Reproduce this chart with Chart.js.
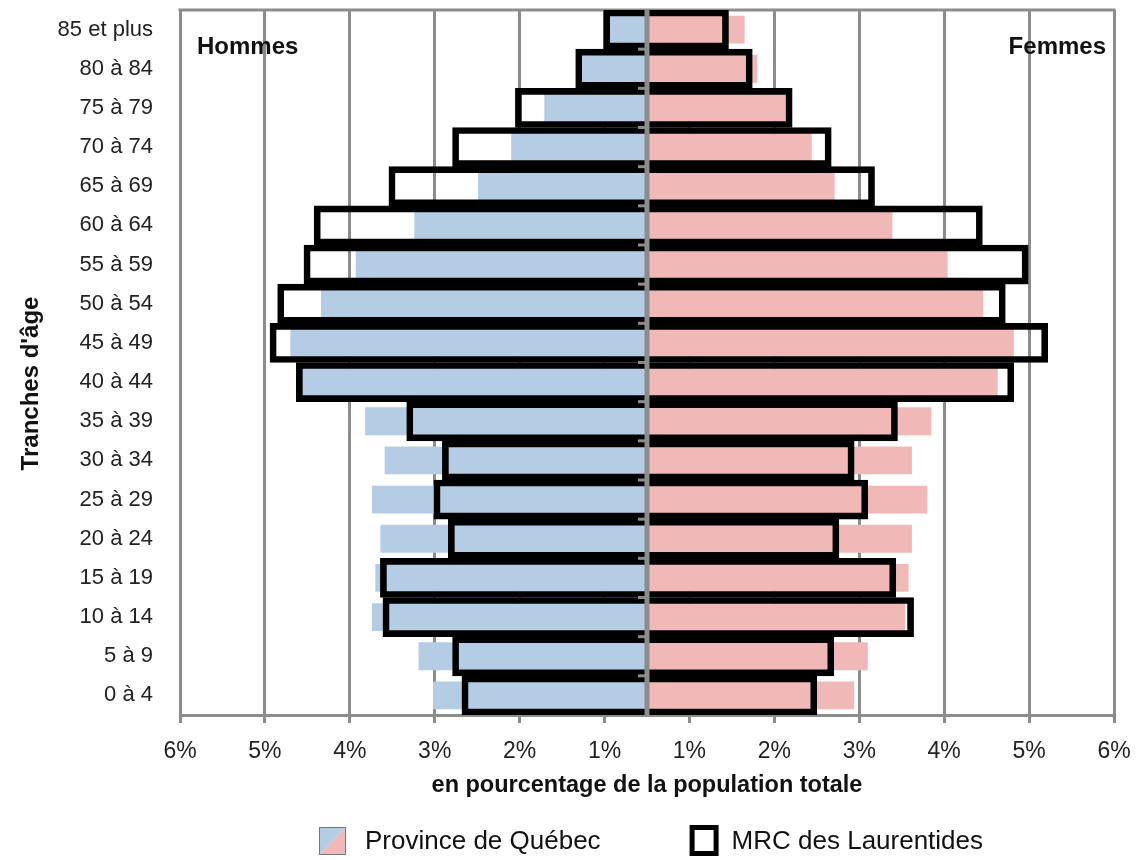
<!DOCTYPE html>
<html>
<head>
<meta charset="utf-8">
<script src="https://cdn.jsdelivr.net/npm/chart.js@4.4.1/dist/chart.umd.min.js"></script>
<style>
   html, body { margin: 0; padding: 0; background: #ffffff; }
   #wrap { width: 1136px; height: 860px; }
</style>
</head>
<body>
<div id="wrap"><canvas id="pyramide" width="1136" height="860"></canvas></div>
<script>

/* tranches d'age, du haut vers le bas */
const ageGroups = [
   "85 et plus","80 à 84","75 à 79","70 à 74","65 à 69","60 à 64",
   "55 à 59","50 à 54","45 à 49","40 à 44","35 à 39","30 à 34",
   "25 à 29","20 à 24","15 à 19","10 à 14","5 à 9","0 à 4"
];

/* % de la population totale */
const quebecHommes = [0.46,0.78,1.21,1.60,1.99,2.74,3.43,3.84,4.20,4.10,3.32,3.09,3.24,3.14,3.20,3.24,2.69,2.52];
const quebecFemmes = [1.15,1.30,1.67,1.94,2.21,2.89,3.54,3.96,4.32,4.13,3.35,3.12,3.30,3.12,3.08,3.04,2.60,2.44];
const mrcHommes    = [0.51,0.84,1.55,2.29,3.04,3.92,4.04,4.35,4.44,4.13,2.83,2.41,2.51,2.34,3.14,3.11,2.29,2.18];
const mrcFemmes    = [0.96,1.24,1.71,2.17,2.68,3.95,4.49,4.22,4.72,4.32,2.95,2.44,2.60,2.26,2.93,3.14,2.20,2.00];

/* etiquettes de l'axe horizontal, de gauche a droite */
const xTickLabels = ["6%","5%","4%","3%","2%","1%","1%","2%","3%","4%","5%","6%"];

const legendLabels = ["Province de Québec","MRC des Laurentides"];

const BLUE = "#B4CCE4";
const PINK = "#F1B8B8";
const GRID = "#8C8C8C";
const FONT = "'Liberation Sans', Arial, sans-serif";

Chart.defaults.font.family = FONT;
Chart.defaults.color = "#1e1e1e";

/* cadre, axe central, textes et legende */
const decorPlugin = {

   id: "decor",

   beforeDatasetsDraw(chart){

      const ctx = chart.ctx;
      const a = chart.chartArea;

      ctx.save();
      ctx.strokeStyle = GRID;
      ctx.lineWidth = 3;
      ctx.beginPath();
      ctx.moveTo(a.left - 1.5, a.top);
      ctx.lineTo(a.right + 1.5, a.top);
      ctx.stroke();
      ctx.restore();

   },

   afterDatasetsDraw(chart){

      const ctx = chart.ctx;
      const a = chart.chartArea;
      const x0 = chart.scales.x.getPixelForValue(0);
      const y = chart.scales.y;

      ctx.save();
      ctx.strokeStyle = GRID;

      ctx.lineWidth = 5;
      ctx.beginPath();
      ctx.moveTo(x0, a.top);
      ctx.lineTo(x0, a.bottom);
      ctx.stroke();

      /* petites graduations de l'axe vertical */
      ctx.lineWidth = 3;
      for(let i = 0; i < ageGroups.length - 1; i++){
         let yy = (y.getPixelForValue(i) + y.getPixelForValue(i + 1)) / 2;
         ctx.beginPath();
         ctx.moveTo(x0 - 9, yy);
         ctx.lineTo(x0, yy);
         ctx.stroke();
      }

      ctx.restore();

   },

   afterDraw(chart){

      const ctx = chart.ctx;
      const a = chart.chartArea;

      ctx.save();
      ctx.fillStyle = "#111";
      ctx.textBaseline = "middle";

      ctx.font = "bold 24px " + FONT;
      ctx.textAlign = "left";
      ctx.fillText("Hommes", a.left + 17, a.top + 37);
      ctx.textAlign = "right";
      ctx.fillText("Femmes", a.right - 8, a.top + 37);

      /* titre vertical */
      ctx.save();
      ctx.translate(31, (a.top + a.bottom) / 2 + 21);
      ctx.rotate(-Math.PI / 2);
      ctx.textAlign = "center";
      ctx.fillText("Tranches d'âge", 0, 0);
      ctx.restore();

      /* legende */
      ctx.font = "26px " + FONT;
      ctx.textAlign = "left";

      let w1 = ctx.measureText(legendLabels[0]).width;
      let x = a.left + 139;
      let top = 827;
      let cy = 842;

      // carre bicolore
      ctx.fillStyle = BLUE;
      ctx.beginPath();
      ctx.moveTo(x, top);
      ctx.lineTo(x + 27, top);
      ctx.lineTo(x, top + 28);
      ctx.closePath();
      ctx.fill();
      ctx.fillStyle = PINK;
      ctx.beginPath();
      ctx.moveTo(x + 27, top);
      ctx.lineTo(x + 27, top + 28);
      ctx.lineTo(x, top + 28);
      ctx.closePath();
      ctx.fill();
      ctx.strokeStyle = "#777";
      ctx.lineWidth = 1;
      ctx.strokeRect(x + 0.5, top + 0.5, 26, 27);

      ctx.fillStyle = "#111";
      ctx.fillText(legendLabels[0], x + 46, cy);

      // carre noir
      let x2 = x + 46 + w1 + 89;
      ctx.strokeStyle = "#000";
      ctx.lineWidth = 5;
      ctx.strokeRect(x2 + 2.5, top + 0.5, 24, 26);

      ctx.fillText(legendLabels[1], x2 + 42, cy);

      ctx.restore();

   }

};

let ctx = document.getElementById("pyramide").getContext("2d");

new Chart(ctx, {

   type: "bar",

   data: {

      labels: ageGroups,

      datasets: [

         {
            label: "MRC des Laurentides - Hommes",
            data: mrcHommes.map(v => -v),
            backgroundColor: "rgba(0,0,0,0)",
            borderColor: "#000",
            borderWidth: 6,
            borderSkipped: "start",
            barPercentage: 1,
            categoryPercentage: 1,
            grouped: false,
            order: 0
         },
         {
            label: "MRC des Laurentides - Femmes",
            data: mrcFemmes,
            backgroundColor: "rgba(0,0,0,0)",
            borderColor: "#000",
            borderWidth: 6,
            borderSkipped: "start",
            barPercentage: 1,
            categoryPercentage: 1,
            grouped: false,
            order: 0
         },
         {
            label: "Province de Québec - Hommes",
            data: quebecHommes.map(v => -v),
            backgroundColor: BLUE,
            borderWidth: 0,
            barPercentage: 0.71,
            categoryPercentage: 1,
            grouped: false,
            order: 1
         },
         {
            label: "Province de Québec - Femmes",
            data: quebecFemmes,
            backgroundColor: PINK,
            borderWidth: 0,
            barPercentage: 0.71,
            categoryPercentage: 1,
            grouped: false,
            order: 1
         }

      ]

   },

   options: {

      indexAxis: "y",
      responsive: false,
      animation: false,

      layout: {
         padding: { top: 10, right: 22, bottom: 50, left: 0 }
      },

      plugins: {
         legend: { display: false },
         tooltip: { enabled: false }
      },

      scales: {

         x: {
            type: "linear",
            min: -5.5,
            max: 5.5,
            afterBuildTicks: function(axis){
               axis.ticks = xTickLabels.map((t, i) => ({ value: i - 5.5 }));
            },
            afterFit: function(axis){
               axis.height = 95;
               axis.paddingLeft = 0;
               axis.paddingRight = 0;
            },
            grid: {
               color: GRID,
               lineWidth: 3,
               tickLength: 8
            },
            border: { color: GRID, width: 3 },
            ticks: {
               padding: 15,
               color: "#222",
               font: { size: 23 },
               maxRotation: 0,
               callback: function(value, index){
                  return xTickLabels[index];
               }
            },
            title: {
               display: true,
               text: "en pourcentage de la population totale",
               color: "#111",
               font: { size: 23.5, weight: "bold" },
               padding: { top: 0, bottom: 10 }
            }
         },

         y: {
            afterFit: function(axis){
               axis.width = 180;
               axis.paddingTop = 0;
               axis.paddingBottom = 0;
            },
            grid: {
               display: true,
               drawOnChartArea: false,
               drawTicks: false
            },
            border: { color: GRID, width: 3 },
            ticks: {
               padding: 27,
               autoSkip: false,
               color: "#222",
               font: { size: 22 }
            }
         }

      }

   },

   plugins: [decorPlugin]

});

</script>
</body>
</html>
